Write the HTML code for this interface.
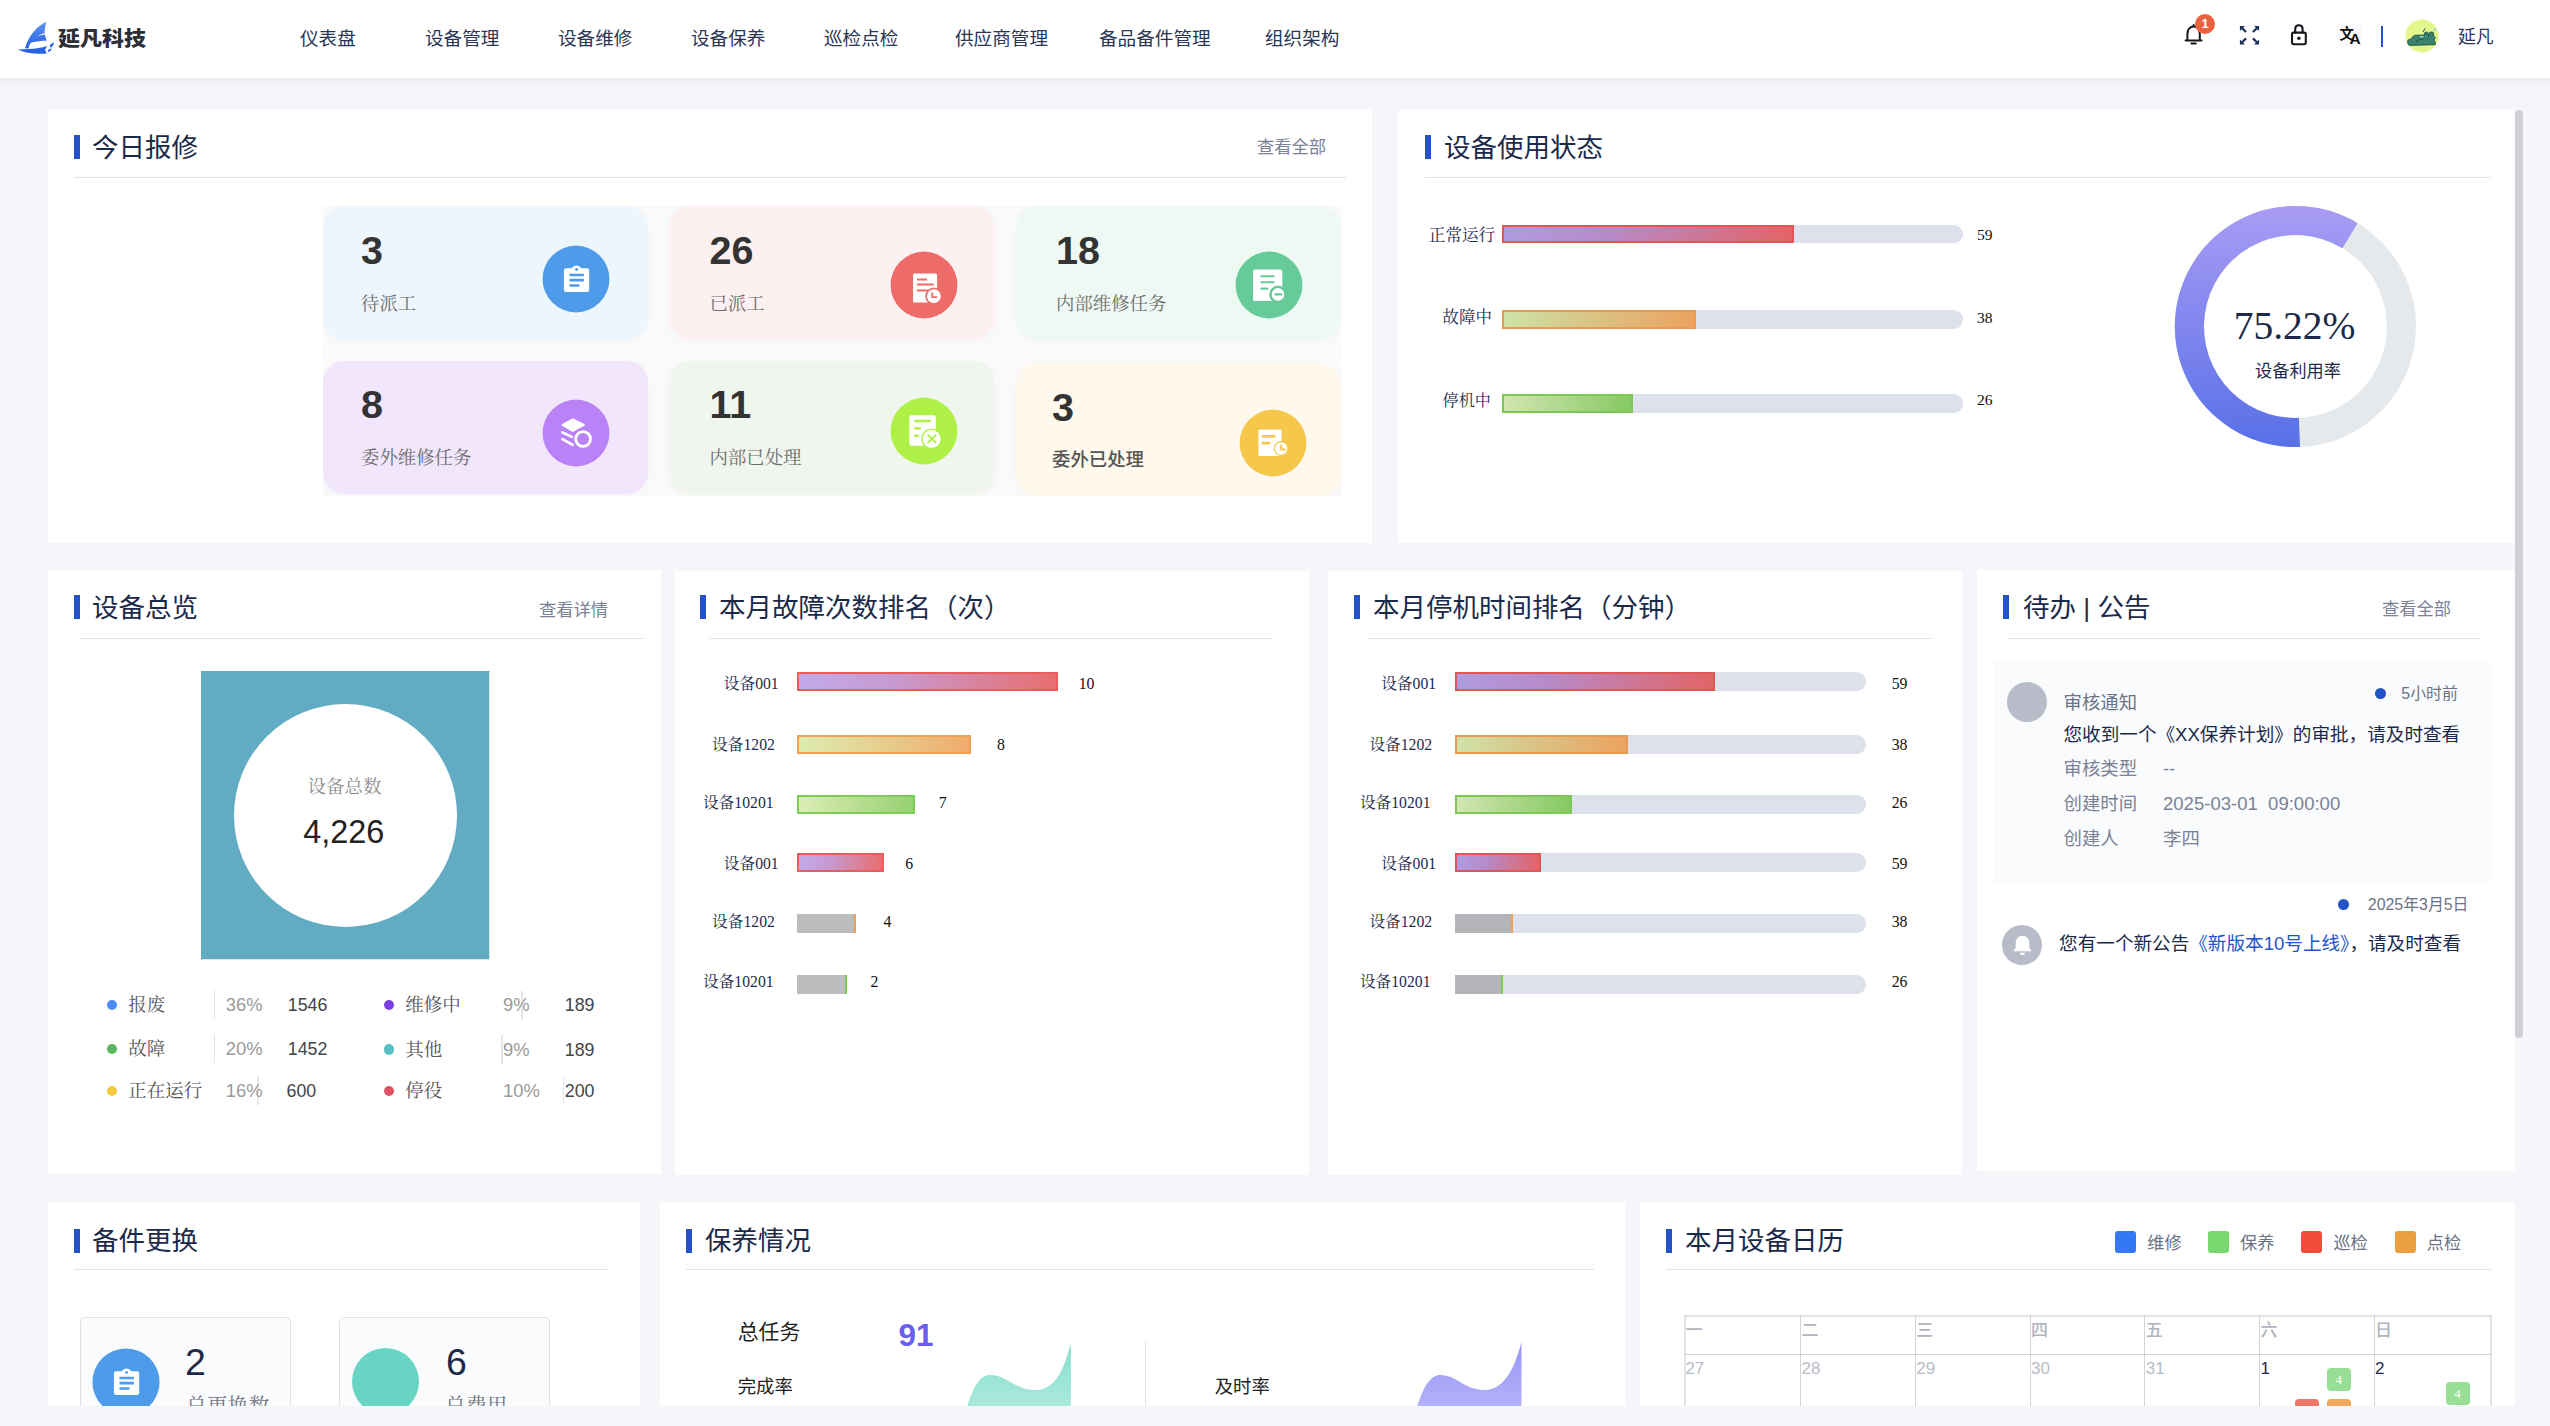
<!DOCTYPE html>
<html lang="zh-CN">
<head>
<meta charset="utf-8">
<title>延凡科技 - 仪表盘</title>
<style>
*{box-sizing:border-box;margin:0;padding:0}
html,body{width:2550px;height:1426px;overflow:hidden;background:#f5f6fa}
body{position:relative;font-family:"Liberation Sans","Noto Sans CJK SC",sans-serif;color:#1c2a4a}
.abs{position:absolute}
.serif{font-family:"Liberation Serif","Noto Serif CJK SC",serif}
#hdr{position:absolute;left:0;top:0;width:2550px;height:78px;background:#fff;box-shadow:0 2px 8px rgba(30,40,80,.07);z-index:5}
.nav{position:absolute;top:0;height:78px;line-height:77px;font-size:18.6px;color:#2b3654;white-space:nowrap}
.panel{position:absolute;background:#fff;overflow:hidden}
.pt{position:absolute;font-size:26.5px;line-height:36px;color:#1c2a4a;white-space:nowrap}
.bar{position:absolute;width:6px;height:24px;background:#2453c9}
.hr{position:absolute;height:1.5px;background:#e1e3e9}
.more{position:absolute;font-size:17.3px;line-height:24px;color:#7a8296;white-space:nowrap}
.t{position:absolute;white-space:nowrap}
#clip{position:absolute;left:0;top:0;width:2550px;height:1406px;overflow:hidden}
</style>
</head>
<body>
<div id="clip">

<!-- ============ PANEL 1 : 今日报修 ============ -->
<div class="panel" id="p1" style="left:48px;top:110px;width:1324px;height:433px">
  <div class="bar" style="left:26px;top:25px"></div>
  <div class="pt" style="left:44px;top:20.4px">今日报修</div>
  <div class="more" style="left:1209px;top:25px">查看全部</div>
  <div class="hr" style="left:26px;top:66.5px;width:1271.5px"></div>
  <div class="abs" style="left:275px;top:96px;width:1018px;height:290px;background:#fafafa"></div>
  <div class="abs" style="left:275px;top:96px;width:325px;height:133px;border-radius:21px;background:#edf5fd;box-shadow:0 3px 9px rgba(120,120,140,.035)"></div>
  <div class="t" style="left:313px;top:118px;font-size:39.5px;line-height:44px;font-weight:700;color:#333">3</div>
  <div class="t serif" style="left:313px;top:180.6px;font-size:18.4px;color:#6d6d6d;line-height:26px">待派工</div>
  <svg class="abs" style="left:492.9px;top:134.4px" width="70" height="70" viewBox="-35 -35 70 70"><circle r="33.4" fill="#4d9be9"/><path fill="#fff" d="M-9.9 -10.8 H-4.4 Q-2.4 -13.4 0.55 -13.4 Q3.5 -13.4 5.5 -10.8 H11 Q13.2 -10.8 13.2 -8.6 V10.8 Q13.2 13 11 13 H-9.9 Q-12.1 13 -12.1 10.8 V-8.6 Q-12.1 -10.8 -9.9 -10.8Z"/><circle cx="0.55" cy="-9.5" r="1.4" fill="#4d9be9"/><path stroke="#4d9be9" stroke-width="2.7" d="M-6.5 -4 H7.9 M-6.5 1.1 H7.9 M-6.5 6.5 H3.4"/></svg>
<div class="abs" style="left:621px;top:96px;width:325.5px;height:133px;border-radius:21px;background:#fcf0f0;box-shadow:0 3px 9px rgba(120,120,140,.035)"></div>
  <div class="t" style="left:661.5px;top:118px;font-size:39.5px;line-height:44px;font-weight:700;color:#333">26</div>
  <div class="t serif" style="left:661.5px;top:180.6px;font-size:18.4px;color:#6d6d6d;line-height:26px">已派工</div>
  <svg class="abs" style="left:841.1px;top:139.5px" width="70" height="70" viewBox="-35 -35 70 70"><circle r="33.4" fill="#ed6b68"/><path fill="#fff" d="M-9.4 -11.6 H11.5 Q13.1 -11.6 13.1 -10.0 V15.9 Q13.1 17.5 11.5 17.5 H-9.4 Q-11 17.5 -11 15.9 V-10.0 Q-11 -11.6 -9.4 -11.6Z"/><path stroke="#ed6b68" stroke-width="2" d="M-7.1 -5.5 H3.1 M-7.1 -0.4 H9.7 M-7.1 5.5 H4"/><circle cx="9.9" cy="11.2" r="7.8" fill="#fff" stroke="#ed6b68" stroke-width="1.7"/><path stroke="#ed6b68" stroke-width="1.8" fill="none" d="M8.3 7.6 V12.2 H13.2"/></svg>
<div class="abs" style="left:968px;top:96px;width:325px;height:133px;border-radius:21px;background:#eff9f4;box-shadow:0 3px 9px rgba(120,120,140,.035)"></div>
  <div class="t" style="left:1008px;top:118px;font-size:39.5px;line-height:44px;font-weight:700;color:#333">18</div>
  <div class="t serif" style="left:1008px;top:180.6px;font-size:18.4px;color:#6d6d6d;line-height:26px">内部维修任务</div>
  <svg class="abs" style="left:1186.4px;top:139.5px" width="70" height="70" viewBox="-35 -35 70 70"><circle r="33.4" fill="#66cb98"/><path fill="#fff" d="M-13.8 -15.5 H11.100000000000001 Q13.3 -15.5 13.3 -13.3 V13.900000000000002 Q13.3 16.1 11.100000000000001 16.1 H-13.8 Q-16 16.1 -16 13.900000000000002 V-13.3 Q-16 -15.5 -13.8 -15.5Z"/><path stroke="#66cb98" stroke-width="2.1" stroke-linecap="round" d="M-7.6 -8.7 H4.6 M-7.6 -2.7 H4.6 M-7.6 3.6 H-1.6"/><circle cx="9" cy="9.4" r="7.55" fill="#fff" stroke="#66cb98" stroke-width="2.5"/><path stroke="#66cb98" stroke-width="2.4" stroke-linecap="round" d="M6.6 9.4 H12.2"/></svg>
<div class="abs" style="left:275px;top:251px;width:325px;height:133px;border-radius:21px;background:#f1e6fc;box-shadow:0 3px 9px rgba(120,120,140,.035)"></div>
  <div class="t" style="left:313px;top:272px;font-size:39.5px;line-height:44px;font-weight:700;color:#333">8</div>
  <div class="t serif" style="left:313px;top:334.6px;font-size:18.4px;color:#6d6d6d;line-height:26px">委外维修任务</div>
  <svg class="abs" style="left:493.0px;top:287.5px" width="70" height="70" viewBox="-35 -35 70 70"><circle r="33.4" fill="#b983f7"/><path fill="#fff" stroke="#fff" stroke-width="2" stroke-linejoin="round" d="M-13.4 -8 L-3 -13.6 L7.9 -8.2 L-3.3 -2Z"/><path fill="none" stroke="#fff" stroke-width="2.6" stroke-linecap="round" d="M-13.6 -0.6 L-4.2 3.9 M-13.6 6.2 L-3.4 11.8"/><circle cx="7.1" cy="6" r="7.4" fill="#b983f7" stroke="#fff" stroke-width="2.8"/></svg>
<div class="abs" style="left:621px;top:251px;width:325.5px;height:133px;border-radius:21px;background:#f0f6ed;box-shadow:0 3px 9px rgba(120,120,140,.035)"></div>
  <div class="t" style="left:661.5px;top:272px;font-size:39.5px;line-height:44px;font-weight:700;color:#333">11</div>
  <div class="t serif" style="left:661.5px;top:334.6px;font-size:18.4px;color:#6d6d6d;line-height:26px">内部已处理</div>
  <svg class="abs" style="left:841.1px;top:286.4px" width="70" height="70" viewBox="-35 -35 70 70"><circle r="33.4" fill="#aef046"/><path fill="#fff" d="M-12.7 -15.7 H9.8 Q11.8 -15.7 11.8 -13.7 V12.7 Q11.8 14.7 9.8 14.7 H-12.7 Q-14.7 14.7 -14.7 12.7 V-13.7 Q-14.7 -15.7 -12.7 -15.7Z"/><path stroke="#aef046" stroke-width="2.4" stroke-linecap="round" d="M-8.8 -10 H5.8 M-8.8 -2.6 H-4 M-8.8 4.7 H-6"/><circle cx="7.6" cy="7.9" r="9.8" fill="#fff" stroke="#aef046" stroke-width="1.4"/><path stroke="#aef046" stroke-width="2" stroke-linecap="round" d="M4.1 4.2 L11.6 11.4 M11.6 4.2 L4.1 11.4"/></svg>
<div class="abs" style="left:968px;top:252.5px;width:325px;height:133px;border-radius:21px;background:#fef9ec;box-shadow:0 3px 9px rgba(120,120,140,.035)"></div>
  <div class="t" style="left:1004px;top:274.5px;font-size:39.5px;line-height:44px;font-weight:700;color:#333">3</div>
  <div class="t" style="left:1004px;top:337.1px;font-size:18.4px;font-weight:500;color:#555;line-height:26px">委外已处理</div>
  <svg class="abs" style="left:1190.4px;top:298.4px" width="70" height="70" viewBox="-35 -35 70 70"><circle r="33.4" fill="#f5c74b"/><path fill="#fff" d="M-13.0 -13.5 H7.0 Q8.6 -13.5 8.6 -11.9 V11.5 Q8.6 13.1 7.0 13.1 H-13.0 Q-14.6 13.1 -14.6 11.5 V-11.9 Q-14.6 -13.5 -13.0 -13.5Z"/><path stroke="#f5c74b" stroke-width="2.8" stroke-linecap="round" d="M-10 -6.7 H1.2 M-10 0.1 H-4"/><circle cx="8.2" cy="5.5" r="6.8" fill="#fff" stroke="#f5c74b" stroke-width="1.2"/><path stroke="#f5c74b" stroke-width="2" fill="none" d="M8.2 1.8 V6.6 H12.6"/></svg>

<div class="abs" style="left:255px;top:386px;width:1060px;height:30px;background:#fff"></div><div class="abs" style="left:255px;top:90px;width:20px;height:320px;background:#fff"></div><div class="abs" style="left:1293px;top:90px;width:20px;height:320px;background:#fff"></div>
  <!--P1-END-->
</div>

<!-- ============ PANEL 2 : 设备使用状态 ============ -->
<div class="panel" id="p2" style="left:1398px;top:110px;width:1117px;height:433px">
  <div class="bar" style="left:27px;top:25px"></div>
  <div class="pt" style="left:46px;top:20.4px">设备使用状态</div>
  <div class="hr" style="left:27px;top:66.5px;width:1066px"></div>
  <div class="t serif" style="left:30.8px;top:113.8px;font-size:16.6px;line-height:24px;color:#1c2a4a">正常运行</div>
  <div class="abs" style="left:103.5px;top:114.69999999999999px;width:461px;height:18.6px;background:#dde1ec;border-radius:0 9.3px 9.3px 0"></div>
  <div class="abs" style="left:103.5px;top:114.69999999999999px;width:292.0px;height:18.6px;background:linear-gradient(90deg,#b09be0,#b78ac8 36%,#e26466);border:2px solid #e05555"></div>
  <div class="t serif" style="left:579px;top:113px;font-size:15.6px;line-height:24px;color:#111">59</div>
<div class="t serif" style="left:44.6px;top:196.2px;font-size:16.5px;line-height:24px;color:#1c2a4a">故障中</div>
  <div class="abs" style="left:103.5px;top:200.2px;width:461px;height:18.6px;background:#dde1ec;border-radius:0 9.3px 9.3px 0"></div>
  <div class="abs" style="left:103.5px;top:200.2px;width:194.20000000000005px;height:18.6px;background:linear-gradient(90deg,#cfe3a8,#d6ca8c 36%,#eca260);border:2px solid #eb9a50"></div>
  <div class="t serif" style="left:579px;top:195.60000000000002px;font-size:15.6px;line-height:24px;color:#111">38</div>
<div class="t serif" style="left:44.6px;top:279.2px;font-size:16.1px;line-height:24px;color:#1c2a4a">停机中</div>
  <div class="abs" style="left:103.5px;top:284.4px;width:461px;height:18.6px;background:#dde1ec;border-radius:0 9.3px 9.3px 0"></div>
  <div class="abs" style="left:103.5px;top:284.4px;width:131.9000000000001px;height:18.6px;background:linear-gradient(90deg,#d2e5b2,#86c962);border:2px solid #7cc655"></div>
  <div class="t serif" style="left:579px;top:278.3px;font-size:15.6px;line-height:24px;color:#111">26</div>
<svg class="abs" style="left:0;top:0" width="1117" height="433" viewBox="0 0 1117 433">
    <defs><linearGradient id="dg" x1="0" y1="0" x2="0" y2="1"><stop offset="0" stop-color="#a99cf4"/><stop offset="1" stop-color="#5870e8"/></linearGradient></defs>
    <circle cx="897.4" cy="216.5" r="106.00" fill="none" stroke="#e6e9ec" stroke-width="29.20"/>
    <path d="M902.03 337.01 A120.6 120.6 0 1 1 959.51 113.13 L944.47 138.15 A91.4 91.4 0 1 0 900.91 307.83Z" fill="url(#dg)"/>
  </svg>
  <div class="t serif" style="left:796.6px;width:200px;text-align:center;top:193.4px;font-size:39.5px;line-height:46px;color:#1c2a4a">75.22%</div>
  <div class="t" style="left:800px;width:200px;text-align:center;top:249px;font-size:17.2px;line-height:24px;color:#1c2a4a">设备利用率</div>

</div>

<!-- ============ PANEL 3 : 设备总览 ============ -->
<div class="panel" id="p3" style="left:48px;top:570px;width:613px;height:604px">
  <div class="bar" style="left:26px;top:25.0px"></div>
  <div class="pt" style="left:44px;top:20.3px">设备总览</div>
  <div class="more" style="left:491px;top:28.0px">查看详情</div>
  <div class="hr" style="left:32px;top:67.8px;width:564px"></div>
  <div class="abs" style="left:152.9px;top:100.9px;width:289.5px;height:289.5px;background:#61abc3;border:1px solid #d9e8ee;border-left-color:#61abc3;border-top-color:#61abc3"></div>
  <div class="abs" style="left:186.2px;top:134.2px;width:223px;height:223px;border-radius:50%;background:#fff"></div>
  <div class="t serif" style="left:196.39999999999998px;width:200px;text-align:center;top:203.5px;font-size:18.5px;line-height:26px;color:#8c8c8c">设备总数</div>
  <div class="t" style="left:195.7px;width:200px;text-align:center;top:241.7px;font-size:32.4px;line-height:40px;color:#222">4,226</div>
<div class="abs" style="left:58.5px;top:429.6px;width:10.4px;height:10.4px;border-radius:50%;background:#4a8ef5"></div>
  <div class="t serif" style="left:80.30000000000001px;top:421.8px;font-size:18.5px;line-height:26px;color:#555">报废</div>
  <div class="abs" style="left:165.5px;top:420.3px;width:1.4px;height:29px;background:#e6e6ea"></div>
  <div class="t" style="left:177.7px;top:421.8px;font-size:18.4px;line-height:26px;color:#9a9a9a">36%</div>
  <div class="t" style="left:239.8px;top:421.8px;font-size:17.8px;line-height:26px;color:#444">1546</div>
<div class="abs" style="left:58.5px;top:473.5px;width:10.4px;height:10.4px;border-radius:50%;background:#5cb85c"></div>
  <div class="t serif" style="left:80.30000000000001px;top:465.7px;font-size:18.5px;line-height:26px;color:#555">故障</div>
  <div class="abs" style="left:165.5px;top:464.2px;width:1.4px;height:29px;background:#e6e6ea"></div>
  <div class="t" style="left:177.7px;top:465.7px;font-size:18.4px;line-height:26px;color:#9a9a9a">20%</div>
  <div class="t" style="left:239.8px;top:465.7px;font-size:17.8px;line-height:26px;color:#444">1452</div>
<div class="abs" style="left:58.5px;top:515.7px;width:10.4px;height:10.4px;border-radius:50%;background:#f4c93e"></div>
  <div class="t serif" style="left:80.30000000000001px;top:507.9px;font-size:18.5px;line-height:26px;color:#555">正在运行</div>
  <div class="abs" style="left:209.39999999999998px;top:506.4px;width:1.4px;height:29px;background:#e6e6ea"></div>
  <div class="t" style="left:177.7px;top:507.9px;font-size:18.4px;line-height:26px;color:#9a9a9a">16%</div>
  <div class="t" style="left:238.5px;top:507.9px;font-size:17.8px;line-height:26px;color:#444">600</div>
<div class="abs" style="left:335.90000000000003px;top:430.0px;width:10.4px;height:10.4px;border-radius:50%;background:#7b3fe4"></div>
  <div class="t serif" style="left:357.2px;top:422.2px;font-size:18.5px;line-height:26px;color:#555">维修中</div>
  <div class="abs" style="left:473.29999999999995px;top:420.7px;width:1.4px;height:29px;background:#e6e6ea"></div>
  <div class="t" style="left:455px;top:422.2px;font-size:18.4px;line-height:26px;color:#9a9a9a">9%</div>
  <div class="t" style="left:516.8px;top:422.2px;font-size:17.8px;line-height:26px;color:#444">189</div>
<div class="abs" style="left:335.90000000000003px;top:474.4px;width:10.4px;height:10.4px;border-radius:50%;background:#56c0c4"></div>
  <div class="t serif" style="left:357.2px;top:466.6px;font-size:18.5px;line-height:26px;color:#555">其他</div>
  <div class="abs" style="left:453.3px;top:465.1px;width:1.4px;height:29px;background:#e6e6ea"></div>
  <div class="t" style="left:455px;top:466.6px;font-size:18.4px;line-height:26px;color:#9a9a9a">9%</div>
  <div class="t" style="left:516.8px;top:466.6px;font-size:17.8px;line-height:26px;color:#444">189</div>
<div class="abs" style="left:335.90000000000003px;top:515.7px;width:10.4px;height:10.4px;border-radius:50%;background:#e04f64"></div>
  <div class="t serif" style="left:357.2px;top:507.9px;font-size:18.5px;line-height:26px;color:#555">停役</div>
  <div class="abs" style="left:514.6px;top:506.4px;width:1.4px;height:29px;background:#e6e6ea"></div>
  <div class="t" style="left:455px;top:507.9px;font-size:18.4px;line-height:26px;color:#9a9a9a">10%</div>
  <div class="t" style="left:516.8px;top:507.9px;font-size:17.8px;line-height:26px;color:#444">200</div>

</div>

<!-- ============ PANEL 4 : 本月故障次数排名 ============ -->
<div class="panel" id="p4" style="left:675px;top:571px;width:634px;height:604px">
  <div class="bar" style="left:25px;top:24px"></div>
  <div class="pt" style="left:44px;top:19.3px">本月故障次数排名（次）</div>
  <div class="hr" style="left:34px;top:66.8px;width:564px"></div>
  <div class="t serif" style="left:48.8px;top:101.2px;font-size:15.7px;line-height:24px;color:#1c2a4a">设备001</div>
  <div class="abs" style="left:122px;top:101.2px;width:260.8px;height:19px;background:linear-gradient(90deg,#c2aaea,#c79ad2 36%,#e86e6e);border:2px solid #e85c5c"></div>
  <div class="t serif" style="left:403.7px;top:101.2px;font-size:15.8px;line-height:24px;color:#111">10</div>
  <div class="t serif" style="left:37.1px;top:161.7px;font-size:15.7px;line-height:24px;color:#1c2a4a">设备1202</div>
  <div class="abs" style="left:122px;top:164.2px;width:173.9px;height:19px;background:linear-gradient(90deg,#dcecb0,#e3d796 36%,#f0ab6c);border:2px solid #f0a052"></div>
  <div class="t serif" style="left:322.0px;top:161.7px;font-size:15.8px;line-height:24px;color:#111">8</div>
  <div class="t serif" style="left:28.0px;top:219.5px;font-size:15.7px;line-height:24px;color:#1c2a4a">设备10201</div>
  <div class="abs" style="left:122px;top:224.2px;width:117.8px;height:19px;background:linear-gradient(90deg,#dcedb4,#98d072);border:2px solid #7ecc58"></div>
  <div class="t serif" style="left:263.7px;top:219.5px;font-size:15.8px;line-height:24px;color:#111">7</div>
  <div class="t serif" style="left:48.8px;top:281.2px;font-size:15.7px;line-height:24px;color:#1c2a4a">设备001</div>
  <div class="abs" style="left:122px;top:281.6px;width:86.9px;height:19px;background:linear-gradient(90deg,#c2aaea,#c79ad2 36%,#e86e6e);border:2px solid #e85c5c"></div>
  <div class="t serif" style="left:230.2px;top:281.2px;font-size:15.8px;line-height:24px;color:#111">6</div>
  <div class="t serif" style="left:37.1px;top:338.7px;font-size:15.7px;line-height:24px;color:#1c2a4a">设备1202</div>
  <div class="abs" style="left:122px;top:342.9px;width:59.1px;height:19px;background:#bdbdbd;border-right:2px solid #f0a052"></div>
  <div class="t serif" style="left:208.5px;top:338.7px;font-size:15.8px;line-height:24px;color:#111">4</div>
  <div class="t serif" style="left:28.0px;top:398.7px;font-size:15.7px;line-height:24px;color:#1c2a4a">设备10201</div>
  <div class="abs" style="left:122px;top:404.2px;width:50.0px;height:19px;background:#bdbdbd;border-right:2px solid #7ecc58"></div>
  <div class="t serif" style="left:195.4px;top:398.7px;font-size:15.8px;line-height:24px;color:#111">2</div>
  
</div>

<!-- ============ PANEL 5 : 本月停机时间排名 ============ -->
<div class="panel" id="p5" style="left:1328px;top:571px;width:634px;height:604px">
  <div class="bar" style="left:26px;top:24px"></div>
  <div class="pt" style="left:45px;top:19.3px">本月停机时间排名（分钟）</div>
  <div class="hr" style="left:40px;top:66.8px;width:564px"></div>
  <div class="t serif" style="left:53.2px;top:101.2px;font-size:15.7px;line-height:24px;color:#1c2a4a">设备001</div>
  <div class="abs" style="left:126.8px;top:101.2px;width:411px;height:19px;background:#dde1ec;border-radius:0 9.5px 9.5px 0"></div>
  <div class="abs" style="left:126.8px;top:101.2px;width:260.0px;height:19px;background:linear-gradient(90deg,#b09be0,#b78ac8 36%,#e26466);border:2px solid #e05555"></div>
  <div class="t serif" style="left:563.7px;top:101.2px;font-size:15.8px;line-height:24px;color:#111">59</div>
  <div class="t serif" style="left:41.4px;top:161.7px;font-size:15.7px;line-height:24px;color:#1c2a4a">设备1202</div>
  <div class="abs" style="left:126.8px;top:164.2px;width:411px;height:19px;background:#dde1ec;border-radius:0 9.5px 9.5px 0"></div>
  <div class="abs" style="left:126.8px;top:164.2px;width:173.0px;height:19px;background:linear-gradient(90deg,#cfe3a8,#d6ca8c 36%,#eca260);border:2px solid #eb9a50"></div>
  <div class="t serif" style="left:563.7px;top:161.7px;font-size:15.8px;line-height:24px;color:#111">38</div>
  <div class="t serif" style="left:31.9px;top:219.5px;font-size:15.7px;line-height:24px;color:#1c2a4a">设备10201</div>
  <div class="abs" style="left:126.8px;top:224.2px;width:411px;height:19px;background:#dde1ec;border-radius:0 9.5px 9.5px 0"></div>
  <div class="abs" style="left:126.8px;top:224.2px;width:116.9px;height:19px;background:linear-gradient(90deg,#d2e5b2,#86c962);border:2px solid #7cc655"></div>
  <div class="t serif" style="left:563.7px;top:219.5px;font-size:15.8px;line-height:24px;color:#111">26</div>
  <div class="t serif" style="left:53.2px;top:281.2px;font-size:15.7px;line-height:24px;color:#1c2a4a">设备001</div>
  <div class="abs" style="left:126.8px;top:281.6px;width:411px;height:19px;background:#dde1ec;border-radius:0 9.5px 9.5px 0"></div>
  <div class="abs" style="left:126.8px;top:281.6px;width:86.5px;height:19px;background:linear-gradient(90deg,#b09be0,#b78ac8 36%,#e26466);border:2px solid #e05555"></div>
  <div class="t serif" style="left:563.7px;top:281.2px;font-size:15.8px;line-height:24px;color:#111">59</div>
  <div class="t serif" style="left:41.4px;top:338.7px;font-size:15.7px;line-height:24px;color:#1c2a4a">设备1202</div>
  <div class="abs" style="left:126.8px;top:342.9px;width:411px;height:19px;background:#dde1ec;border-radius:0 9.5px 9.5px 0"></div>
  <div class="abs" style="left:126.8px;top:342.9px;width:58.2px;height:19px;background:#b5b5b9;border-right:2px solid #f0a052"></div>
  <div class="t serif" style="left:563.7px;top:338.7px;font-size:15.8px;line-height:24px;color:#111">38</div>
  <div class="t serif" style="left:31.9px;top:398.7px;font-size:15.7px;line-height:24px;color:#1c2a4a">设备10201</div>
  <div class="abs" style="left:126.8px;top:404.2px;width:411px;height:19px;background:#dde1ec;border-radius:0 9.5px 9.5px 0"></div>
  <div class="abs" style="left:126.8px;top:404.2px;width:48.7px;height:19px;background:#b5b5b9;border-right:2px solid #7ecc58"></div>
  <div class="t serif" style="left:563.7px;top:398.7px;font-size:15.8px;line-height:24px;color:#111">26</div>
  
</div>

<!-- ============ PANEL 6 : 待办 | 公告 ============ -->
<div class="panel" id="p6" style="left:1977px;top:570px;width:538px;height:601px">
  <div class="bar" style="left:26px;top:25.0px"></div>
  <div class="pt" style="left:46px;top:20.3px">待办 | 公告</div>
  <div class="more" style="left:405px;top:27.0px">查看全部</div>
  <div class="hr" style="left:30px;top:67.8px;width:473px"></div>
  <div class="abs" style="left:16.5px;top:90.9px;width:497px;height:223px;background:#fafbfd"></div>
  <div class="abs" style="left:29.5px;top:112.2px;width:40px;height:40px;border-radius:50%;background:#b8bcc8"></div>
  <div class="t" style="left:86.5px;top:119.2px;font-size:18.4px;line-height:26px;color:#6b7385;margin-top:1px">审核通知</div>
  <div class="abs" style="left:398.4px;top:118.4px;width:11px;height:11px;border-radius:50%;background:#2453c9"></div>
  <div class="t" style="left:424.3px;top:111.9px;font-size:15.9px;line-height:24px;color:#6b7385">5小时前</div>
  <div class="t" style="left:86.5px;top:151.8px;font-size:18.6px;line-height:26px;color:#1c2a4a">您收到一个《XX保养计划》的审批，请及时查看</div>
  <div class="t" style="left:86.5px;top:185.7px;font-size:18.4px;line-height:26px;color:#7a8296">审核类型</div>
  <div class="t" style="left:186px;top:185.7px;font-size:18.4px;line-height:26px;color:#7a8296">--</div>
  <div class="t" style="left:86.5px;top:220.5px;font-size:18.4px;line-height:26px;color:#7a8296">创建时间</div>
  <div class="t" style="left:186px;top:220.5px;font-size:18.4px;line-height:26px;color:#7a8296;white-space:pre;font-size:18.55px">2025-03-01  09:00:00</div>
  <div class="t" style="left:86.5px;top:256.1px;font-size:18.4px;line-height:26px;color:#7a8296">创建人</div>
  <div class="t" style="left:186px;top:256.1px;font-size:18.4px;line-height:26px;color:#7a8296">李四</div>
  <div class="abs" style="left:361.4px;top:329.3px;width:11px;height:11px;border-radius:50%;background:#2453c9"></div>
  <div class="t" style="left:390.8px;top:322.8px;font-size:15.9px;line-height:24px;color:#6b7385">2025年3月5日</div>
  <div class="abs" style="left:25.4px;top:355.1px;width:40px;height:40px;border-radius:50%;background:#b8bcc8"></div>
  <svg class="abs" style="left:33.2px;top:362.6px" width="25" height="25" viewBox="0 0 20 20"><path fill="#fff" d="M10 2.2 C6.6 2.2 4.6 4.8 4.6 8 V11.6 L2.8 14.6 H17.2 L15.4 11.6 V8 C15.4 4.8 13.4 2.2 10 2.2Z M8 15.8 C8 17 8.9 17.8 10 17.8 C11.1 17.8 12 17 12 15.8Z"/></svg>
  <div class="t" style="left:82.1px;top:360.9px;font-size:18.6px;line-height:26px;color:#1c2a4a">您有一个新公告<span style="color:#2453c9">《新版本10号上线》</span>，请及时查看</div>

</div>

<!-- ============ PANEL 7 : 备件更换 ============ -->
<div class="panel" id="p7" style="left:48px;top:1202px;width:592px;height:260px">
  <div class="bar" style="left:26px;top:26.5px"></div>
  <div class="pt" style="left:44px;top:21.2px">备件更换</div>
  <div class="hr" style="left:26px;top:66.6px;width:534px"></div>
  <div class="abs" style="left:32px;top:114.6px;width:211px;height:160px;border:1.6px solid #dfe1e7;border-radius:5px;background:#fafbfd"></div>
  <div class="abs" style="left:291px;top:114.6px;width:211px;height:160px;border:1.6px solid #dfe1e7;border-radius:5px;background:#fafbfd"></div>
  <svg class="abs" style="left:43.4px;top:144.9px" width="70" height="70" viewBox="-35 -35 70 70"><circle r="33.6" fill="#4d9be9"/><path fill="#fff" d="M-9.9 -10.8 H-4.4 Q-2.4 -13.4 0.55 -13.4 Q3.5 -13.4 5.5 -10.8 H11 Q13.2 -10.8 13.2 -8.6 V10.8 Q13.2 13 11 13 H-9.9 Q-12.1 13 -12.1 10.8 V-8.6 Q-12.1 -10.8 -9.9 -10.8Z"/><circle cx="0.55" cy="-9.5" r="1.4" fill="#4d9be9"/><path stroke="#4d9be9" stroke-width="2.7" d="M-6.5 -4 H7.9 M-6.5 1.1 H7.9 M-6.5 6.5 H3.4"/></svg>
  <div class="abs" style="left:303.8px;top:146.3px;width:67.2px;height:67.2px;border-radius:50%;background:#68d5c4"></div>
  <div class="t" style="left:137px;top:138px;font-size:37.4px;line-height:44px;color:#1c2a4a">2</div>
  <div class="t" style="left:398px;top:138px;font-size:37.4px;line-height:44px;color:#1c2a4a">6</div>
  <div class="t serif" style="left:138px;top:189px;font-size:20.8px;line-height:30px;color:#707684">总更换数</div>
  <div class="t serif" style="left:397px;top:189px;font-size:20.8px;line-height:30px;color:#707684">总费用</div>

</div>

<!-- ============ PANEL 8 : 保养情况 ============ -->
<div class="panel" id="p8" style="left:660px;top:1202px;width:965px;height:260px">
  <div class="bar" style="left:26px;top:26.5px"></div>
  <div class="pt" style="left:45px;top:21.2px">保养情况</div>
  <div class="hr" style="left:26px;top:66.6px;width:908px"></div>
  <div class="t" style="left:77.7px;top:115px;font-size:20.9px;line-height:30px;color:#222">总任务</div>
  <div class="t" style="left:238px;top:113.5px;font-size:31.4px;line-height:40px;font-weight:700;color:#6a5df0;margin-left:0.5px">91</div>
  <div class="t" style="left:77.7px;top:171.5px;font-size:18.4px;line-height:26px;color:#222">完成率</div>
  <div class="abs" style="left:485px;top:139px;width:1.4px;height:100px;background:#e4e6eb"></div>
  <div class="t" style="left:554.7px;top:171.5px;font-size:18.4px;line-height:26px;color:#222">及时率</div>
  <svg class="abs" style="left:308.7px;top:128px" width="101.9" height="140" viewBox="0 0 101.9 140" overflow="visible"><defs><linearGradient id="ag1" x1="0" y1="0" x2="0" y2="1"><stop offset="0" stop-color="#86dfcd"/><stop offset="1" stop-color="#cdf3ec"/></linearGradient></defs><path d="M-4.2 84 C3.5 58 10 45 21.3 45 C37.3 45.0 46.3 60.0 66.3 60.0 C88.3 60.0 95.9 35.0 101.9 13.0 V140 H-6Z" fill="url(#ag1)"/></svg>
  <svg class="abs" style="left:759.3px;top:128px" width="102.5" height="140" viewBox="0 0 102.5 140" overflow="visible"><defs><linearGradient id="ag2" x1="0" y1="0" x2="0" y2="1"><stop offset="0" stop-color="#9896f6"/><stop offset="1" stop-color="#cdccfc"/></linearGradient></defs><path d="M-4.2 84 C3.5 58 10.4 45 21.7 45 C37.7 45.0 45.3 60.0 65.3 60.0 C87.3 60.0 96.5 34.0 102.5 12.0 V140 H-6Z" fill="url(#ag2)"/></svg>
  
</div>

<!-- ============ PANEL 9 : 本月设备日历 ============ -->
<div class="panel" id="p9" style="left:1640px;top:1202px;width:875px;height:260px">
  <div class="bar" style="left:26px;top:26.5px"></div>
  <div class="pt" style="left:45px;top:21.2px">本月设备日历</div>
  <div class="hr" style="left:26px;top:66.6px;width:825px"></div>
  <div class="abs" style="left:475.2px;top:29px;width:21px;height:22px;border-radius:3px;background:#3478f6"></div><div class="t" style="left:507.3px;top:28.5px;font-size:17.2px;line-height:24px;color:#6b7385">维修</div>
  <div class="abs" style="left:568.0px;top:29px;width:21px;height:22px;border-radius:3px;background:#78d86e"></div><div class="t" style="left:600.0px;top:28.5px;font-size:17.2px;line-height:24px;color:#6b7385">保养</div>
  <div class="abs" style="left:661.2px;top:29px;width:21px;height:22px;border-radius:3px;background:#f04d3c"></div><div class="t" style="left:693.4px;top:28.5px;font-size:17.2px;line-height:24px;color:#6b7385">巡检</div>
  <div class="abs" style="left:754.5px;top:29px;width:21px;height:22px;border-radius:3px;background:#eaa040"></div><div class="t" style="left:786.7px;top:28.5px;font-size:17.2px;line-height:24px;color:#6b7385">点检</div>
  <div class="abs" style="left:44px;top:113px;width:808px;height:140px;border:2px solid #e2e3e6;border-bottom:none"></div>
  <div class="abs" style="left:44px;top:152px;width:808px;height:1px;background:#d3d4d8"></div>
  <div class="abs" style="left:160px;top:113.6px;width:1px;height:140px;background:#d3d4d8"></div>
  <div class="abs" style="left:275px;top:113.6px;width:1px;height:140px;background:#d3d4d8"></div>
  <div class="abs" style="left:390px;top:113.6px;width:1px;height:140px;background:#d3d4d8"></div>
  <div class="abs" style="left:504px;top:113.6px;width:1px;height:140px;background:#d3d4d8"></div>
  <div class="abs" style="left:619px;top:113.6px;width:1px;height:140px;background:#d3d4d8"></div>
  <div class="abs" style="left:734px;top:113.6px;width:1px;height:140px;background:#d3d4d8"></div>
  <div class="t" style="left:45.4px;top:116.4px;font-size:17px;line-height:24px;font-weight:500;margin-top:0.8px;color:#b0b4bd">一</div><div class="t" style="left:45.4px;top:155.0px;font-size:17px;line-height:24px;color:#b8bcc6">27</div>
  <div class="t" style="left:161.6px;top:116.4px;font-size:17px;line-height:24px;font-weight:500;margin-top:0.8px;color:#b0b4bd">二</div><div class="t" style="left:161.6px;top:155.0px;font-size:17px;line-height:24px;color:#b8bcc6">28</div>
  <div class="t" style="left:276.3px;top:116.4px;font-size:17px;line-height:24px;font-weight:500;margin-top:0.8px;color:#b0b4bd">三</div><div class="t" style="left:276.3px;top:155.0px;font-size:17px;line-height:24px;color:#b8bcc6">29</div>
  <div class="t" style="left:391.0px;top:116.4px;font-size:17px;line-height:24px;font-weight:500;margin-top:0.8px;color:#b0b4bd">四</div><div class="t" style="left:391.0px;top:155.0px;font-size:17px;line-height:24px;color:#b8bcc6">30</div>
  <div class="t" style="left:505.7px;top:116.4px;font-size:17px;line-height:24px;font-weight:500;margin-top:0.8px;color:#b0b4bd">五</div><div class="t" style="left:505.7px;top:155.0px;font-size:17px;line-height:24px;color:#b8bcc6">31</div>
  <div class="t" style="left:620.4px;top:116.4px;font-size:17px;line-height:24px;font-weight:500;margin-top:0.8px;color:#b0b4bd">六</div><div class="t" style="left:620.4px;top:155.0px;font-size:17px;line-height:24px;color:#1c2a4a">1</div>
  <div class="t" style="left:735.1px;top:116.4px;font-size:17px;line-height:24px;font-weight:500;margin-top:0.8px;color:#b0b4bd">日</div><div class="t" style="left:735.1px;top:155.0px;font-size:17px;line-height:24px;color:#1c2a4a">2</div>
  <div class="abs serif" style="left:686.7px;top:165.6px;width:24px;height:23.5px;border-radius:4px;background:#97de96;color:#fff;font-size:13px;line-height:23.5px;text-align:center">4</div>
  <div class="abs serif" style="left:654.6px;top:197.2px;width:24px;height:23.5px;border-radius:4px;background:#ee7866;color:#fff;font-size:13px;line-height:23.5px;text-align:center"></div>
  <div class="abs serif" style="left:686.7px;top:197.2px;width:24px;height:23.5px;border-radius:4px;background:#f0a860;color:#fff;font-size:13px;line-height:23.5px;text-align:center"></div>
  <div class="abs serif" style="left:805.6px;top:179.8px;width:24px;height:23.5px;border-radius:4px;background:#97de96;color:#fff;font-size:13px;line-height:23.5px;text-align:center">4</div>
  
</div>

</div><!-- /clip -->

<!-- scrollbar -->
<div class="abs" style="left:2515px;top:110px;width:8px;height:928px;background:#cfcfd6;border-radius:4px;z-index:4"></div>

<!-- ============ HEADER ============ -->
<div id="hdr">
  <svg class="abs" style="left:17px;top:20px" width="40" height="36" viewBox="0 0 40 36">
    <defs><linearGradient id="lg1" x1="0" y1="0" x2="0" y2="1"><stop offset="0" stop-color="#5a93f2"/><stop offset="1" stop-color="#2a5fe2"/></linearGradient></defs>
    <path fill="url(#lg1)" d="M29.1 1.9 C20 6 11.5 15.5 8 28.3 L11.6 28.6 C12 25.5 13 23.4 14.4 22.6 C19 21.3 25 20.8 29.7 20.8 L27.8 14.4 L20 16 L27.6 13 L27.8 14.4 L27.6 10.6 Z"/>
    <path fill="url(#lg1)" d="M27.8 14.2 L19.8 15.9 C22 14.2 25 13 27.6 12.6 Z" opacity="0"/>
    <path fill="#2a62e4" d="M1.2 29.2 C10 29.6 22 28.8 30.6 26 C29.5 27.5 28.2 28.8 28.2 30 C28.2 31.2 29.6 31.4 29.5 33.6 C20 34.2 8 33.5 1.2 29.2 Z"/>
    <path fill="#2a62e4" d="M32.6 25.2 Q34.4 23.2 37.2 22.6 Q36.8 25.2 34.6 27.2 Q33 28 32.6 25.2Z M30.8 30.4 Q32.2 28.8 34.6 28.6 Q34.2 30.8 32.2 31.8 Q30.8 32.2 30.8 30.4Z"/>
  </svg>
  <div class="t" style="left:58px;top:22px;font-size:22px;line-height:34px;font-weight:900;color:#2e2f36;transform:scaleY(.92);transform-origin:50% 80%">延凡科技</div>
  <div class="nav" style="left:300px">仪表盘</div>
  <div class="nav" style="left:425px">设备管理</div>
  <div class="nav" style="left:558px">设备维修</div>
  <div class="nav" style="left:691px">设备保养</div>
  <div class="nav" style="left:824px">巡检点检</div>
  <div class="nav" style="left:955px">供应商管理</div>
  <div class="nav" style="left:1099px">备品备件管理</div>
  <div class="nav" style="left:1265px">组织架构</div>
  <!-- bell -->
  <svg class="abs" style="left:2181px;top:21.4px" width="26" height="26" viewBox="0 0 26 26" fill="none" stroke="#15171c" stroke-width="2" stroke-linecap="round" stroke-linejoin="round">
    <path d="M4.6 19.6 H20.6 M6.4 19.6 V13 C6.4 8.6 9 5.6 12.6 5.6 C16.2 5.6 18.8 8.6 18.8 13 V19.6 M12.6 5.4 V4 M10.4 22.6 H14.8"/>
  </svg>
  <div class="abs" style="left:2195px;top:14px;width:20px;height:20px;border-radius:10px;background:#ea6240;color:#fff;font-size:13px;font-weight:700;line-height:20px;text-align:center">1</div>
  <!-- fullscreen -->
  <svg class="abs" style="left:2238.3px;top:24.2px" width="23" height="23" viewBox="0 0 24 24" fill="#1d2f52">
    <path d="M2 2 H7.2 L5.4 3.8 L9.2 7.6 L7.6 9.2 L3.8 5.4 L2 7.2 Z"/>
    <path d="M22 2 V7.2 L20.2 5.4 L16.4 9.2 L14.8 7.6 L18.6 3.8 L16.8 2 Z"/>
    <path d="M2 21.4 V16.2 L3.8 18 L7.6 14.2 L9.2 15.8 L5.4 19.6 L7.2 21.4 Z"/>
    <path d="M22 21.4 H16.8 L18.6 19.6 L14.8 15.8 L16.4 14.2 L20.2 18 L22 16.2 Z"/>
  </svg>
  <!-- lock -->
  <svg class="abs" style="left:2287px;top:22px" width="24" height="26" viewBox="0 0 24 26" fill="none" stroke="#15171c" stroke-width="2.1" stroke-linejoin="round" stroke-linecap="round">
    <rect x="5" y="10.6" width="13.8" height="11.6" rx="1.6"/>
    <path d="M8.2 10.4 V7.2 C8.2 4.6 9.8 3.2 11.9 3.2 C14 3.2 15.6 4.6 15.6 7.2 V10.4"/>
    <circle cx="11.9" cy="16.2" r="1.7" fill="#15171c" stroke="none"/>
  </svg>
  <!-- translate -->
  <div class="abs" style="left:2338px;top:23px;width:24px;height:24px;background:#fafafa"></div>
  <div class="t" style="left:2339.5px;top:24.5px;font-size:14.4px;line-height:18px;font-weight:700;color:#111">文</div>
  <div class="t" style="left:2349.5px;top:30px;font-size:15.4px;line-height:18px;font-weight:700;color:#111">A</div>
  <div class="abs" style="left:2381px;top:26px;width:2px;height:21px;background:#2453c9"></div>
  <!-- avatar -->
  <svg class="abs" style="left:2404.4px;top:17.9px" width="36" height="36" viewBox="-18 -18 36 36">
    <circle r="16.6" fill="#e4f78e"/>
    <path fill="#3a8270" stroke="#24503f" stroke-width="0.9" stroke-linejoin="round" d="M-14.3 4.6 L-13 3.5 L-11 3 L-8.6 0 Q-8 -0.8 -6.6 -0.8 L2.2 -0.9 L2.6 -3 Q2.8 -3.8 3.6 -3.8 L5.2 -3.8 Q5.9 -3.8 6 -3 L6.7 0.4 L7.4 -3.1 Q7.6 -3.9 8.4 -3.9 L10.4 -3.9 Q11.2 -3.9 11.3 -3.1 L11.7 0 L13.5 1.7 L12 3.9 L13.5 6.9 L13.1 8.7 L-12.6 9.4 Q-14.6 8.4 -14.3 4.6Z"/>
    <path fill="none" stroke="#24503f" stroke-width="0.9" stroke-linecap="round" d="M-5.4 6.4 Q-6 4 -3.6 3.8 L1 3.4 M2.9 -7.4 L1.2 -4.2"/>
    <path fill="none" stroke="#bfeee6" stroke-width="1.1" stroke-linecap="round" d="M-1.6 0.8 L1 0.6"/>
    <circle cx="12.9" cy="-6.4" r="1.1" fill="#7ec4ea"/>
  </svg>
  <div class="t" style="left:2458px;top:20.2px;font-size:17.8px;line-height:34px;color:#2b3654">延凡</div>
</div>

</body>
</html>
